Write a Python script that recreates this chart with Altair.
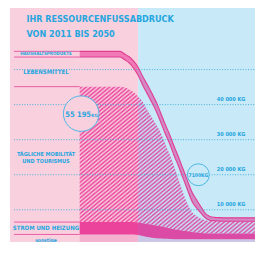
import altair as alt
import pandas as pd

# ---- data (kg per person and year) ----
years = [2011, 2020, 2021, 2022, 2023, 2024, 2025, 2026, 2027, 2028, 2029, 2030, 2031,
         2032, 2033, 2034, 2035, 2036, 2037, 2038, 2039, 2040, 2041, 2042, 2044, 2050]
sonstige = [2970, 2970, 2970, 2970, 2970, 2800, 2500, 2250, 2050, 1900, 1800, 1720, 1670,
            1620, 1620, 1620, 1620, 1620, 1620, 1620, 1620, 1620, 1620, 1620, 1620, 1620]
strom = [3520, 3520, 3520, 3520, 3520, 3550, 3650, 3700, 3700, 3640, 3470, 3280, 3060,
         2840, 2630, 2430, 2230, 2030, 1880, 1760, 1680, 1620, 1620, 1620, 1620, 1620]
mobilitaet = [38640, 38640, 38370, 37830, 37020, 35950, 34660, 32560, 30740, 28780, 26760,
              23920, 21080, 17970, 14400, 10810, 7770, 5670, 4740, 4050, 3730, 3610, 3650,
              3570, 3510, 3510]
lebensmittel = [8445, 8445, 7950, 7580, 6920, 6080, 4800, 4700, 4290, 3890, 3070, 2940, 3080,
                3080, 3750, 4160, 4020, 3080, 2300, 1580, 590, 160, 0, 0, 0, 0]
haushalt = [1620, 1620, 1650, 1750, 2000, 2300, 2500, 2600, 2600, 2600, 2600, 2600, 2600,
            2600, 2600, 2600, 2600, 2600, 2300, 1800, 1300, 1100, 950, 950, 950, 950]

categories = ["Sonstige", "Strom und Heizung", "Tägliche Mobilität und Tourismus",
              "Lebensmittel", "Haushaltsprodukte"]
series = [sonstige, strom, mobilitaet, lebensmittel, haushalt]
label_texts = ["sonstige", "STROM UND HEIZUNG", "TÄGLICHE MOBILITÄT\nUND TOURISMUS",
               "LEBENSMITTEL", "HAUSHALTSPRODUKTE"]

grid_values = [10000, 20000, 30000, 40000, 50000]
tick_values = [10000, 20000, 30000, 40000]
tick_labels = ["10 000 KG", "20 000 KG", "30 000 KG", "40 000 KG"]

zones = ["heute", "zukunft"]
zone_from = [1995.5, 2024]
zone_to = [2024, 2050]

title_lines = ["IHR RESSOURCENFUSSABDRUCK", "VON 2011 BIS 2050"]
end_label = "7100"

# ---- build tables ----
rows = []
for i, yr in enumerate(years):
    base = 0
    for name, vals in zip(categories, series):
        rows.append({"jahr": yr, "kategorie": name, "lo": base, "hi": base + vals[i]})
        base += vals[i]
df = pd.DataFrame(rows)
start = df[df.jahr == years[0]].copy()
start["mid"] = (start.lo + start.hi) / 2
start["text"] = label_texts
total_start = int(start.hi.max())

bg = pd.DataFrame({"zone": zones, "von": zone_from, "bis": zone_to})
grid = pd.DataFrame({"kg": grid_values})
ticks = pd.DataFrame({"kg": tick_values, "label": tick_labels})
one = pd.DataFrame({"v": [0]})

# ---- style ----
PINK = "#f9d0de"
BLUE = "#c8e9f8"
MAG = "#e4007e"
LINE = "#e23d92"
TXT = "#25a6de"
GRIDC = "#45b2dc"
CIRC = "#4db8e4"
FONT = "Liberation Sans Narrow, DejaVu Sans Condensed, Arial Narrow, sans-serif"
W, H = 245, 234

xs = alt.Scale(domain=[1995.5, 2050], nice=False, zero=False)
ys = alt.Scale(domain=[811, 67568], nice=False, zero=False)
X = alt.X("jahr:Q", scale=xs, axis=None)

# fine diagonal hatching for the mobility area (soft-edged stripes)
N = 75
stops = []
for k in range(N):
    stops += [
        alt.GradientStop(offset=round(k / N, 5), color="rgba(228,0,126,0.0)"),
        alt.GradientStop(offset=round((k + 0.5) / N, 5), color="rgba(228,0,126,0.68)"),
    ]
stops.append(alt.GradientStop(offset=1, color="rgba(228,0,126,0.0)"))
hatch = alt.Gradient(gradient="linear", x1=0, y1=0, x2=1, y2=1, stops=stops)


def at(xv, yv):
    return alt.Chart(one).transform_calculate(px=str(xv), py=str(yv))


def pos():
    return dict(x=alt.X("px:Q", scale=xs, axis=None), y=alt.Y("py:Q", scale=ys, axis=None))


background = alt.Chart(bg).mark_rect().encode(
    x=alt.X("von:Q", scale=xs, axis=None), x2="bis:Q",
    y=alt.value(0), y2=alt.value(H),
    color=alt.Color("zone:N", scale=alt.Scale(domain=zones, range=[PINK, BLUE]), legend=None),
)


def band(name, **mark):
    return alt.Chart(df[df.kategorie == name]).mark_area(
        interpolate="monotone", clip=True, **mark
    ).encode(x=X, y=alt.Y("lo:Q", scale=ys, axis=None), y2="hi:Q")


a_sonst = band("Sonstige", color=MAG, opacity=0.14)
a_strom = band("Strom und Heizung", color=MAG, opacity=0.68)
a_mob = band("Tägliche Mobilität und Tourismus", color=hatch)
a_haus = band("Haushaltsprodukte", color=MAG, opacity=0.42)

gridlines = alt.Chart(grid).transform_calculate(von="1996.4", bis="2050").mark_rule(
    strokeDash=[1, 1.6], color=GRIDC, strokeWidth=1
).encode(
    y=alt.Y("kg:Q", scale=ys, axis=None),
    x=alt.X("von:Q", scale=xs, axis=None), x2="bis:Q",
)

left_rules = alt.Chart(start).transform_calculate(von="1996.4").mark_rule(
    color="#ea5ca4", strokeWidth=1
).encode(
    y=alt.Y("hi:Q", scale=ys, axis=None),
    x=alt.X("von:Q", scale=xs, axis=None), x2="jahr:Q",
)


def edge(name):
    return alt.Chart(df[df.kategorie == name]).mark_line(
        interpolate="monotone", color=LINE, strokeWidth=1.1, clip=True
    ).encode(x=X, y=alt.Y("hi:Q", scale=ys, axis=None))


l_top = edge("Haushaltsprodukte")
l_inner = edge("Lebensmittel")

tick_text = alt.Chart(ticks).transform_calculate(lx="2047.85").mark_text(
    align="right", baseline="bottom", dy=-3, fontSize=5.5, font=FONT, fontWeight="bold", color=TXT
).encode(y=alt.Y("kg:Q", scale=ys, axis=None), x=alt.X("lx:Q", scale=xs, axis=None),
         text="label:N")

label_sizes = {"Sonstige": 5, "Strom und Heizung": 6, "Tägliche Mobilität und Tourismus": 5.5,
               "Lebensmittel": 6, "Haushaltsprodukte": 4.5}
labels = []
for name in categories:
    labels.append(alt.Chart(start[start.kategorie == name]).transform_calculate(
        lx="2003.5"
    ).mark_text(
        align="center", baseline="middle", fontSize=label_sizes[name], font=FONT,
        fontWeight="bold", color=TXT, lineBreak="\n", lineHeight=7
    ).encode(
        x=alt.X("lx:Q", scale=xs, axis=None),
        y=alt.Y("mid:Q", scale=ys, axis=None), text="text:N",
    ))

circ1 = at(2011.33, 37430).mark_circle(
    size=1260, color=PINK, stroke=CIRC, strokeWidth=1, opacity=1
).encode(**pos())
circ1_t = at(2010.66, 37430).mark_text(
    align="center", baseline="alphabetic", dy=3, fontSize=7.5, font=FONT, fontWeight="bold",
    color=TXT
).encode(**pos(), text=alt.value(f"{total_start:,}".replace(",", " ")))
circ1_kg = at(2013.6, 37430).mark_text(
    align="left", baseline="alphabetic", dy=3, fontSize=4.5, font=FONT, fontWeight="bold",
    color=TXT
).encode(**pos(), text=alt.value("KG"))

circ2 = at(2037.4, 20000).mark_circle(
    size=480, color=BLUE, stroke=CIRC, strokeWidth=1, opacity=1
).encode(**pos())
circ2_t = at(2037.4, 20000).mark_text(
    align="center", baseline="middle", fontSize=5, font=FONT, fontWeight="bold", color=TXT
).encode(**pos(), text=alt.value(end_label + "KG"))

title1 = at(1999.16, 64324).mark_text(
    align="left", baseline="middle", fontSize=9, font=FONT, fontWeight="bold", color=TXT
).encode(**pos(), text=alt.value(title_lines[0]))
title2 = at(1999.16, 60270).mark_text(
    align="left", baseline="middle", fontSize=9, font=FONT, fontWeight="bold", color=TXT
).encode(**pos(), text=alt.value(title_lines[1]))

chart = alt.layer(
    background, a_sonst, a_strom, a_mob, a_haus, gridlines, left_rules, l_top, l_inner,
    tick_text, *labels, circ1, circ1_t, circ1_kg, circ2, circ2_t, title1, title2
).properties(
    width=W, height=H,
    padding={"left": 2, "top": 0, "right": 0, "bottom": 0},
    autosize=alt.AutoSizeParams(type="none"),
).configure_view(stroke=None)

chart.save("out.html", embed_options={"renderer": "svg", "actions": False})
